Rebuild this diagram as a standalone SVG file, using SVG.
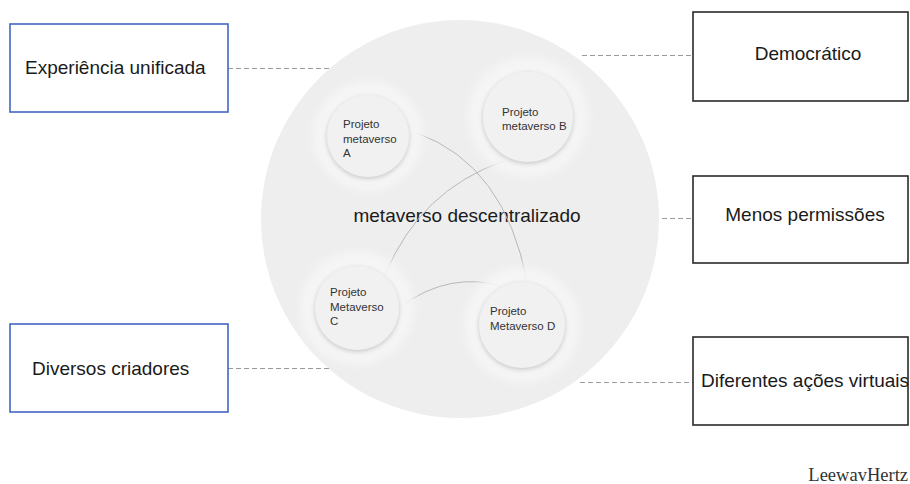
<svg xmlns="http://www.w3.org/2000/svg" width="910" height="484" viewBox="0 0 910 484">
<defs>
<radialGradient id="halo" cx="0.5" cy="0.5" r="0.5">
<stop offset="0.6" stop-color="#f8f8f8" stop-opacity="1"/>
<stop offset="0.82" stop-color="#f5f5f5" stop-opacity="0.8"/>
<stop offset="1" stop-color="#eeeeee" stop-opacity="0"/>
</radialGradient>
<filter id="shadow" x="-30%" y="-30%" width="160%" height="160%">
<feDropShadow dx="0" dy="1.5" stdDeviation="2.5" flood-color="#9a9a9a" flood-opacity="0.55"/>
</filter>
</defs>
<style>
.lbl{font-family:"Liberation Sans",Arial,sans-serif;font-size:19px;fill:#1a1a1a}
.sm{font-family:"Liberation Sans",Arial,sans-serif;font-size:11.5px;fill:#333}
.boxL{fill:#fff;stroke:#4466c4;stroke-width:1.6}
.boxR{fill:#fff;stroke:#2a2a2a;stroke-width:1.6}
.dash{stroke:#9a9a9a;stroke-width:1;stroke-dasharray:5 3;fill:none}
.link{stroke:#b8b8b8;stroke-width:1;fill:none}
.body{fill:#f1f1f1;filter:url(#shadow)}
</style>
<rect width="910" height="484" fill="#fff"/>
<g id="hub">
<circle cx="460" cy="219" r="199" fill="#eeeeee"/>
<text class="lbl" x="467" y="222" text-anchor="middle">metaverso descentralizado</text>
</g>
<g id="connectors">
<line class="dash" x1="228" y1="68.5" x2="332" y2="68.5"/>
<line class="dash" x1="228" y1="368.5" x2="332" y2="368.5"/>
<line class="dash" x1="582" y1="55.5" x2="693" y2="55.5"/>
<line class="dash" x1="662" y1="218.5" x2="693" y2="218.5"/>
<line class="dash" x1="580" y1="382.5" x2="693" y2="382.5"/>
<path class="link" d="M417,133 Q505,165 527,282"/>
<path class="link" d="M504,161 Q420,190 385,275"/>
<path class="link" d="M400,307 Q450,270 505,287"/>
</g>
<g id="projA">
<circle cx="368" cy="136" r="64" fill="url(#halo)"/>
<circle class="body" cx="368" cy="136" r="41"/>
<text class="sm"><tspan x="343" y="128">Projeto</tspan><tspan x="343" y="143">metaverso</tspan><tspan x="343" y="157">A</tspan></text>
</g>
<g id="projB">
<circle cx="528" cy="117" r="70" fill="url(#halo)"/>
<circle class="body" cx="528" cy="117" r="45"/>
<text class="sm"><tspan x="502" y="116">Projeto</tspan><tspan x="502" y="130">metaverso B</tspan></text>
</g>
<g id="projC">
<circle cx="357" cy="308" r="66" fill="url(#halo)"/>
<circle class="body" cx="357" cy="308" r="42"/>
<text class="sm"><tspan x="330" y="296">Projeto</tspan><tspan x="330" y="311">Metaverso</tspan><tspan x="330" y="325">C</tspan></text>
</g>
<g id="projD">
<circle cx="522" cy="325" r="67" fill="url(#halo)"/>
<circle class="body" cx="522" cy="325" r="43"/>
<text class="sm"><tspan x="490" y="315">Projeto</tspan><tspan x="490" y="330">Metaverso D</tspan></text>
</g>
<g id="experiencia">
<rect class="boxL" x="10" y="24" width="218" height="88"/>
<text class="lbl" x="25" y="74">Experiência unificada</text>
</g>
<g id="diversos">
<rect class="boxL" x="10" y="324" width="218" height="88"/>
<text class="lbl" x="32" y="375">Diversos criadores</text>
</g>
<g id="democratico">
<rect class="boxR" x="693" y="12" width="215" height="89"/>
<text class="lbl" x="808" y="60" text-anchor="middle">Democrático</text>
</g>
<g id="menos">
<rect class="boxR" x="693" y="176" width="215" height="87"/>
<text class="lbl" x="805" y="221" text-anchor="middle">Menos permissões</text>
</g>
<g id="diferentes">
<rect class="boxR" x="693" y="337" width="215" height="88"/>
<text class="lbl" x="701" y="387">Diferentes ações virtuais</text>
</g>
<text x="908" y="481" text-anchor="end" font-family="'Liberation Serif','Times New Roman',serif" font-size="18.5" fill="#333">LeewavHertz</text>
</svg>
